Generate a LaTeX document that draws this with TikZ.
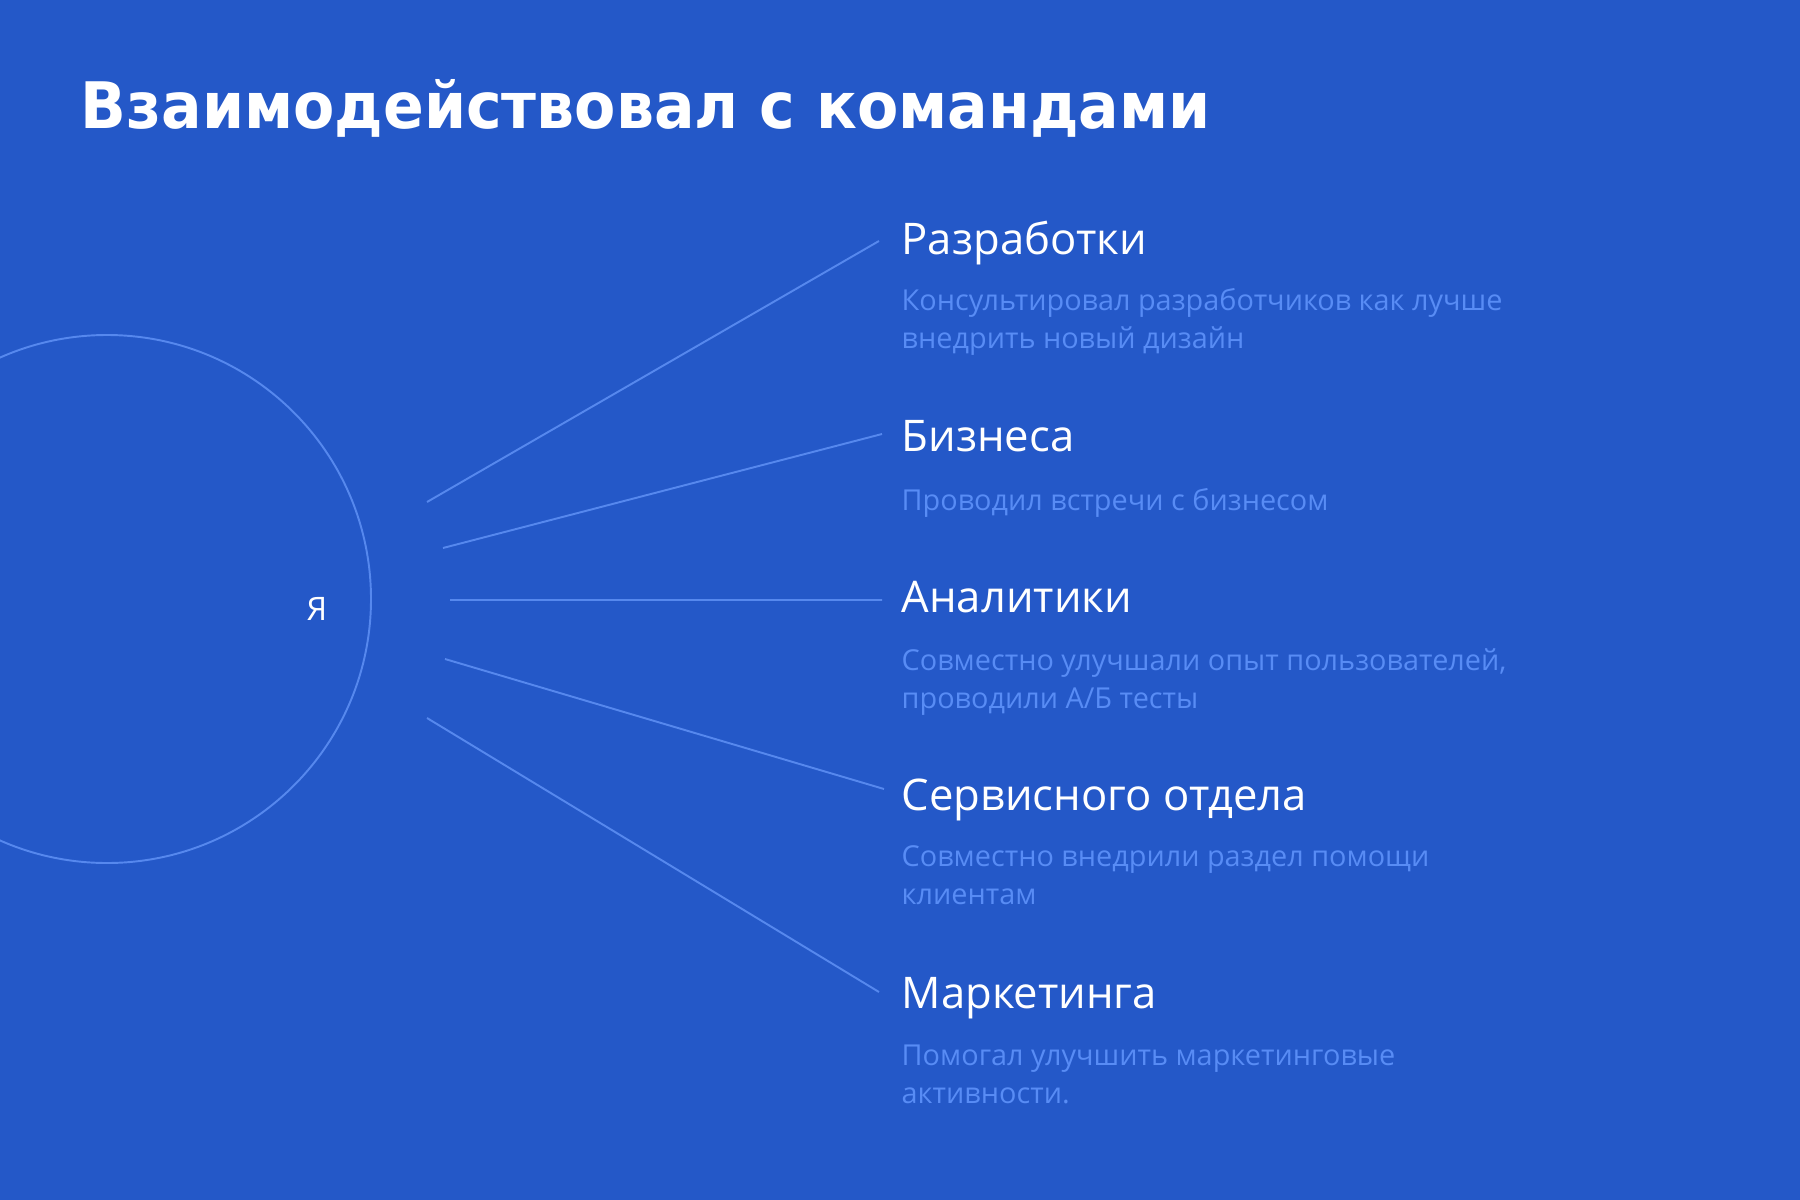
\documentclass[tikz,border=0pt]{standalone}
\usepackage{fontspec}
\setmainfont{Open Sans}
\newfontfamily\titlefont{DejaVu Sans}
\definecolor{deep blue}{RGB}{36,88,200}
\definecolor{soft blue}{RGB}{88,140,245}
\definecolor{ray blue}{RGB}{86,136,238}
\tikzset{
	team/.style={anchor=base west, inner sep=0pt, text=white, font=\fontsize{12.4}{14}\selectfont},
	note/.style={anchor=base west, inner sep=0pt, align=left, text=soft blue, font=\fontsize{8.2}{10.67}\selectfont},
	ray/.style={ray blue, line width=0.55pt}
}

\begin{document}
\begin{tikzpicture}[x=0.01cm, y=-0.01cm]
			% background
			\fill[deep blue] (0, 0) rectangle (1800, 1200);
			\useasboundingbox (0, 0) rectangle (1800, 1200);
			% title
			\node[anchor=base west, inner sep=0pt, text=white] (title) at (80, 128)
				{\resizebox{11.29cm}{4.9mm}{\titlefont\bfseries Взаимодействовал с командами}};
			% part for me
			\begin{scope}
				\draw[ray] (107, 599) circle (264);
				\node[anchor=base, inner sep=0pt, text=white, font=\fontsize{9.2}{11}\selectfont] (me) at (317, 620) {Я};
			\end{scope}
			% part for teams (base of a note is its last line)
			\begin{scope}
				\node[team] (dev) at (901, 254) {Разработки};
				\node[note] (dev note) at (901, 348) {Консультировал разработчиков как лучше\\внедрить новый дизайн};
				\node[team] (biz) at (901, 451) {Бизнеса};
				\node[note] (biz note) at (901, 510) {Проводил встречи с бизнесом};
				\node[team] (data) at (901, 612) {Аналитики};
				\node[note] (data note) at (901, 708) {Совместно улучшали опыт пользователей,\\проводили А/Б тесты};
				\node[team] (serv) at (901, 810) {Сервисного отдела};
				\node[note] (serv note) at (901, 904) {Совместно внедрили раздел помощи\\клиентам};
				\node[team] (mark) at (901, 1008) {Маркетинга};
				\node[note] (mark note) at (901, 1103) {Помогал улучшить маркетинговые\\активности.};
			\end{scope}
			% rays
			\coordinate (dev in) at (427, 502);   \coordinate (dev out) at (879, 241);
			\coordinate (biz in) at (443, 548);   \coordinate (biz out) at (882, 434);
			\coordinate (data in) at (450, 600);  \coordinate (data out) at (882, 600);
			\coordinate (serv in) at (445, 659);  \coordinate (serv out) at (884, 789);
			\coordinate (mark in) at (427, 718);  \coordinate (mark out) at (879, 992);
			\draw[ray]
				(dev in) -- (dev out)
				(biz in) -- (biz out)
				(data in) -- (data out)
				(serv in) -- (serv out)
				(mark in) -- (mark out);
		\end{tikzpicture}
\end{document}
